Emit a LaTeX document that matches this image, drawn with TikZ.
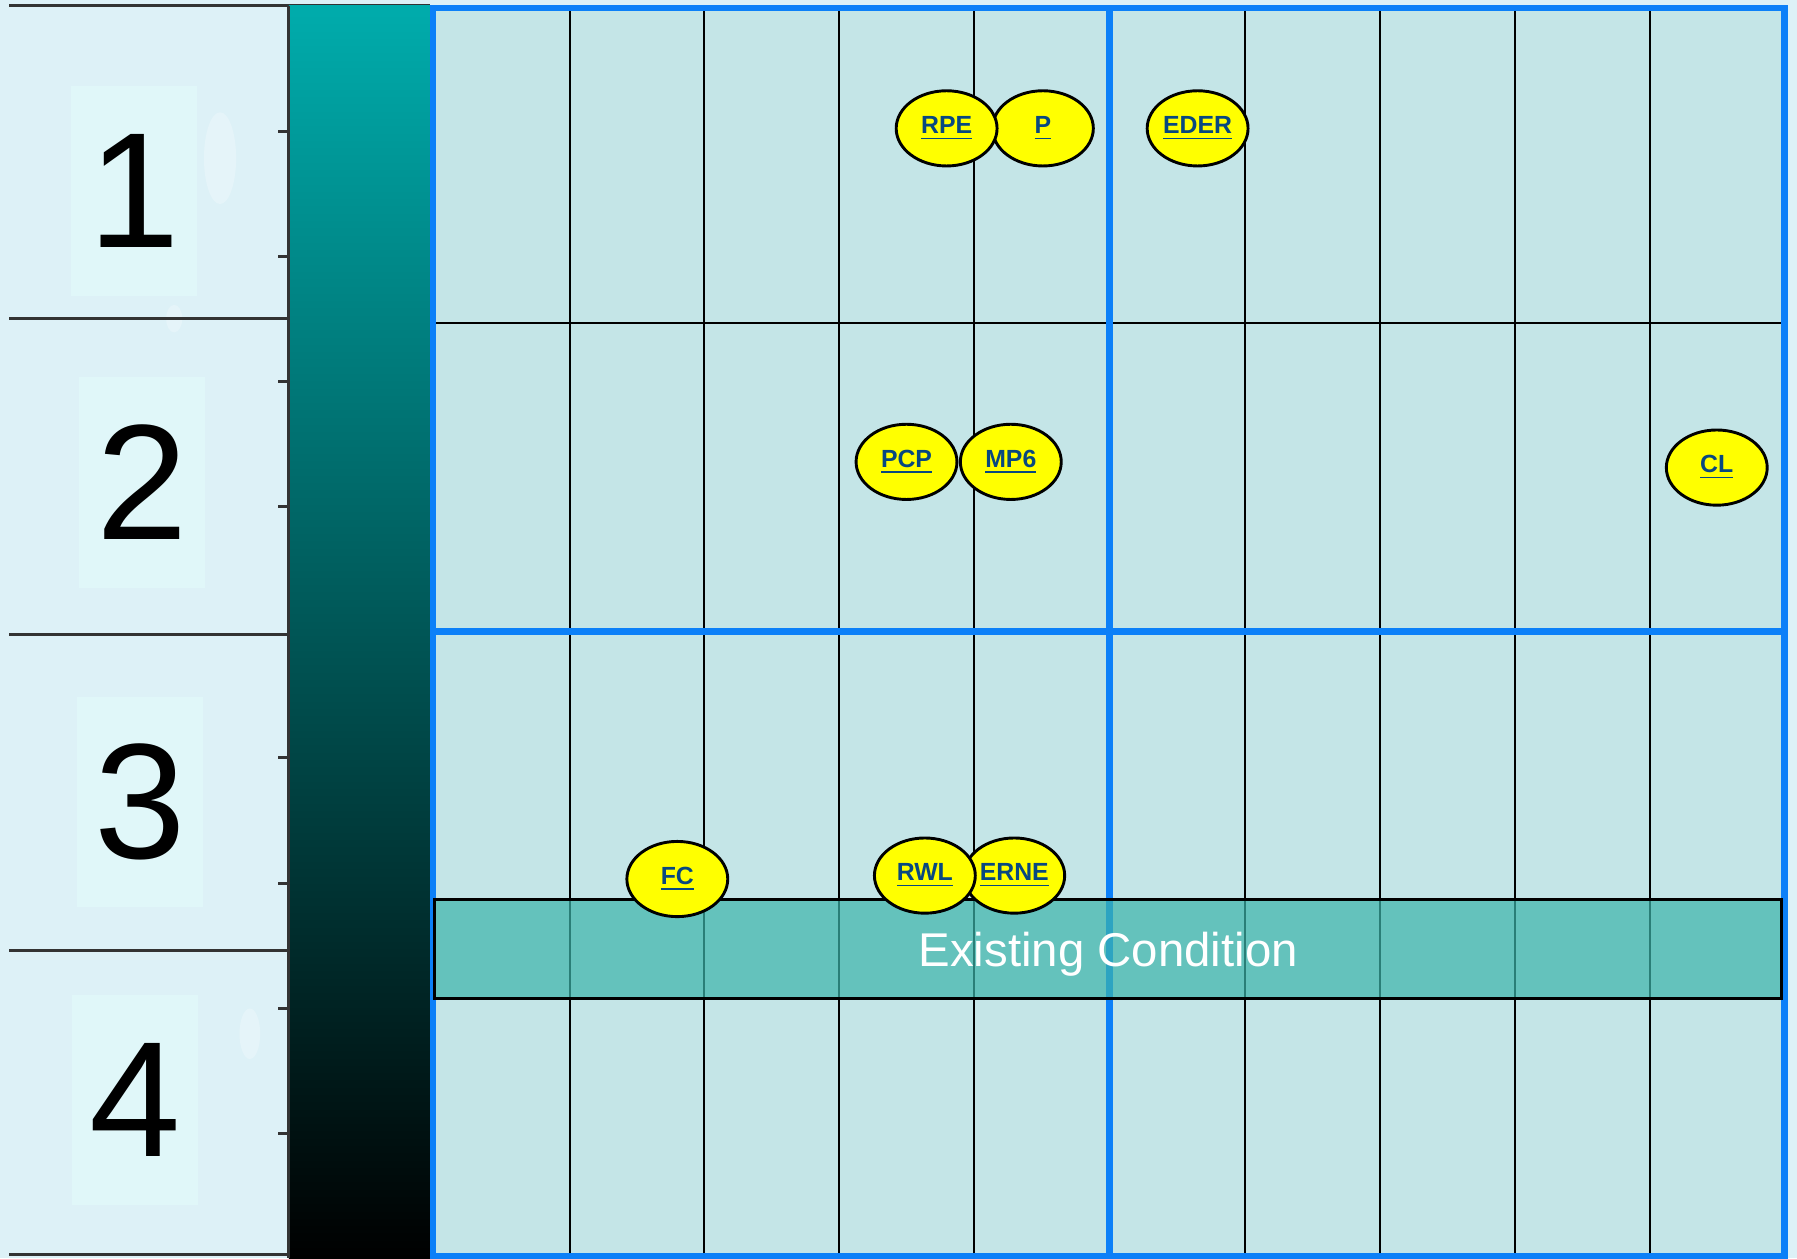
\documentclass[tikz,border=0pt]{standalone}
\usepackage{fontspec}
\setsansfont{Liberation Sans}
\usetikzlibrary{shapes.geometric}
\definecolor{figPanel}{RGB}{221,241,247}
\definecolor{figPanelHi}{RGB}{224,247,249}
\definecolor{figCell}{RGB}{196,229,231}
\definecolor{figGridBlue}{RGB}{12,128,248}
\definecolor{figTealTop}{RGB}{0,172,172}
\definecolor{figBand}{RGB}{60,180,170}
\definecolor{figSite}{RGB}{255,255,0}
\definecolor{figLink}{RGB}{8,72,128}

\begin{document}
\begin{tikzpicture}[
  x=0.0125cm,y=-0.0125cm,
  font=\sffamily,
  rowlabel/.style={fill=figPanelHi,minimum width=1.375cm,minimum height=2.29cm,inner sep=0pt,text=black,font=\sffamily\fontsize{51}{51}\selectfont},
  panelline/.style={draw=black!80,line width=0.9pt},
  cellline/.style={draw=black,line width=0.6pt},
  mainline/.style={draw=figGridBlue,line width=2pt},
  band/.style={draw=black,line width=0.9pt,fill=figBand,fill opacity=0.7,text opacity=1,text=white,text depth=0pt,minimum width=14.69cm,minimum height=1.075cm,font=\sffamily\fontsize{14.7}{15}\selectfont},
  site/.style={ellipse,draw=black,line width=0.9pt,fill=figSite,minimum width=1.1cm,minimum height=0.82cm,inner sep=0pt,text=figLink,font=\sffamily\bfseries\fontsize{7.7}{8}\selectfont}
]
\useasboundingbox (0,0) rectangle (1568,1098);
\fill[figPanel] (0,0) rectangle (1568,1098);

% glossy spots on the side panel
\fill[white,opacity=0.25] (192,138) ellipse (14 and 40);
\fill[white,opacity=0.25] (152,278) ellipse (7 and 12);
\fill[white,opacity=0.25] (218,902) ellipse (9 and 22);

\node[rowlabel] (row1) at (117,167) {1};
\node[rowlabel] (row2) at (124,421) {2};
\node[rowlabel] (row3) at (122,700) {3};
\node[rowlabel] (row4) at (118,960) {4};

\draw[panelline] (8,5) -- (375,5);
\draw[panelline] (8,278) -- (252,278);
\draw[panelline] (8,554) -- (252,554);
\draw[panelline] (8,829) -- (252,829);
\draw[panelline] (8,1095) -- (252,1095);

\shade[top color=figTealTop,bottom color=black] (252,5) rectangle (375,1098);
\draw[panelline] (252,5) -- (252,1098);
\draw[panelline] (243,115) -- (252,115) (243,224) -- (252,224)
  (243,333) -- (252,333) (243,442) -- (252,442)
  (243,661) -- (252,661) (243,771) -- (252,771)
  (243,880) -- (252,880) (243,989) -- (252,989);

\fill[figCell] (378,7) rectangle (1557,1096);
\draw[cellline] (497,7) -- (497,1096);
\draw[cellline] (614,7) -- (614,1096);
\draw[cellline] (732,7) -- (732,1096);
\draw[cellline] (850,7) -- (850,1096);
\draw[cellline] (1086,7) -- (1086,1096);
\draw[cellline] (1204,7) -- (1204,1096);
\draw[cellline] (1322,7) -- (1322,1096);
\draw[cellline] (1440,7) -- (1440,1096);
\draw[cellline] (378,282) -- (1557,282);
\draw[mainline] (968,7) -- (968,1096);
\draw[mainline] (378,551) -- (1557,551);
\draw[mainline] (378,7) rectangle (1557,1096);

\node[band] (existing) at (967,828) {Existing Condition};

\node[site] (eder) at (1045,112) {\underline{EDER}};
\node[site] (p) at (910,112) {\underline{P}};
\node[site] (rpe) at (826,112) {\underline{RPE}};

\node[site] (mp6) at (882,403) {\underline{MP6}};
\node[site] (pcp) at (791,403) {\underline{PCP}};
\node[site] (cl) at (1498,408) {\underline{CL}};

\node[site] (fc) at (591,767) {\underline{FC}};
\node[site] (erne) at (885,764) {\underline{ERNE}};
\node[site] (rwl) at (807,764) {\underline{RWL}};

\end{tikzpicture}
\end{document}
